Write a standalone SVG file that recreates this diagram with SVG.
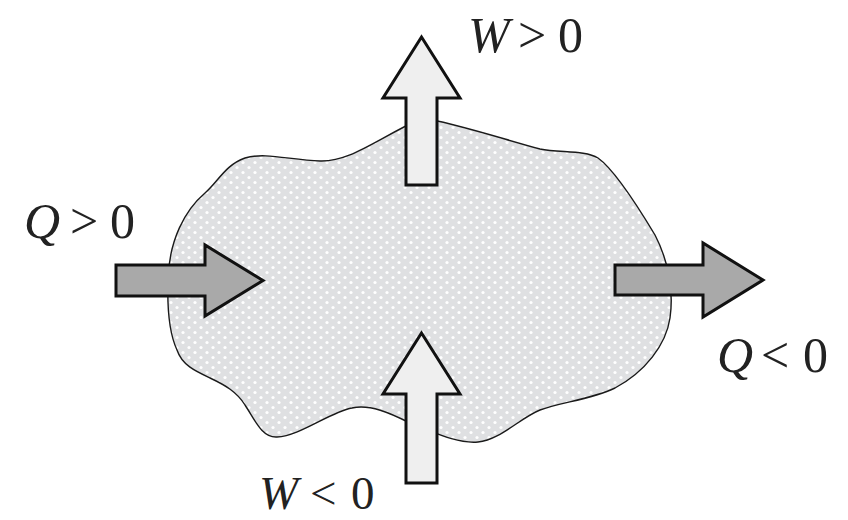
<svg xmlns="http://www.w3.org/2000/svg" width="848" height="520" viewBox="0 0 848 520">
  <defs>
    <pattern id="dots" width="12" height="10" patternUnits="userSpaceOnUse">
      <rect width="12" height="10" fill="#dfe0e2"/>
      <circle cx="3" cy="2.5" r="1.6" fill="#ffffff"/>
      <circle cx="9" cy="7.5" r="1.6" fill="#ffffff"/>
    </pattern>
    <style>
      .blob { fill: url(#dots); stroke: #1a1a1a; stroke-width: 1.4; }
      .heat { fill: #a9a9a9; stroke: #111; stroke-width: 3; stroke-linejoin: miter; }
      .work { fill: #efefef; stroke: #111; stroke-width: 3; stroke-linejoin: miter; }
      .lbl { font-family: "Liberation Serif", "Times New Roman", serif; font-size: 50px; fill: #222; }
      .sm { font-size: 47px; }
      .it { font-style: italic; }
    </style>
  </defs>
  <rect width="848" height="520" fill="#ffffff"/>

  <g id="system">
    <path class="blob" d="M 422,118
      C 450,122 500,138 540,149
      C 560,153 585,150 598,158
      C 615,170 640,210 655,235
      C 668,260 674,290 670,318
      C 666,345 645,372 615,388
      C 590,400 560,402 540,410
      C 520,418 500,440 478,442
      C 455,444 430,430 410,423
      C 390,413 370,404 352,408
      C 330,412 300,436 277,437
      C 262,438 255,420 245,405
      C 237,392 225,385 210,378
      C 195,371 182,365 177,350
      C 170,335 167,310 168,280
      C 169,240 185,210 205,193
      C 218,182 225,165 245,158
      C 265,152 290,160 320,161
      C 350,162 375,140 422,118 Z"/>
  </g>

  <g id="connectors">
    <g id="heat-in">
      <polygon class="heat" points="263,280.5 205,245 205,265 116,265 116,296 205,296 205,316"/>
    </g>
    <g id="heat-out">
      <polygon class="heat" points="763,280 703,243 703,265 615,265 615,295 703,295 703,317"/>
    </g>
    <g id="work-out">
      <polygon class="work" points="421.5,37 460,98 437,98 437,185 406,185 406,98 383,98"/>
    </g>
    <g id="work-in">
      <polygon class="work" points="421.5,333 460,394 437,394 437,483 406,483 406,394 383,394"/>
    </g>
  </g>

  <g id="label-w-pos">
    <text class="lbl" y="52"><tspan class="it" x="468">W</tspan><tspan x="518">&gt;</tspan><tspan x="558">0</tspan></text>
  </g>
  <g id="label-q-pos">
    <text class="lbl" y="238"><tspan class="it" x="24">Q</tspan><tspan x="70">&gt;</tspan><tspan x="110">0</tspan></text>
  </g>
  <g id="label-q-neg">
    <text class="lbl" y="372"><tspan class="it" x="717">Q</tspan><tspan x="761">&lt;</tspan><tspan x="803">0</tspan></text>
  </g>
  <g id="label-w-neg">
    <text class="lbl sm" y="509"><tspan class="it" x="259">W</tspan><tspan x="310">&lt;</tspan><tspan x="351">0</tspan></text>
  </g>
</svg>
